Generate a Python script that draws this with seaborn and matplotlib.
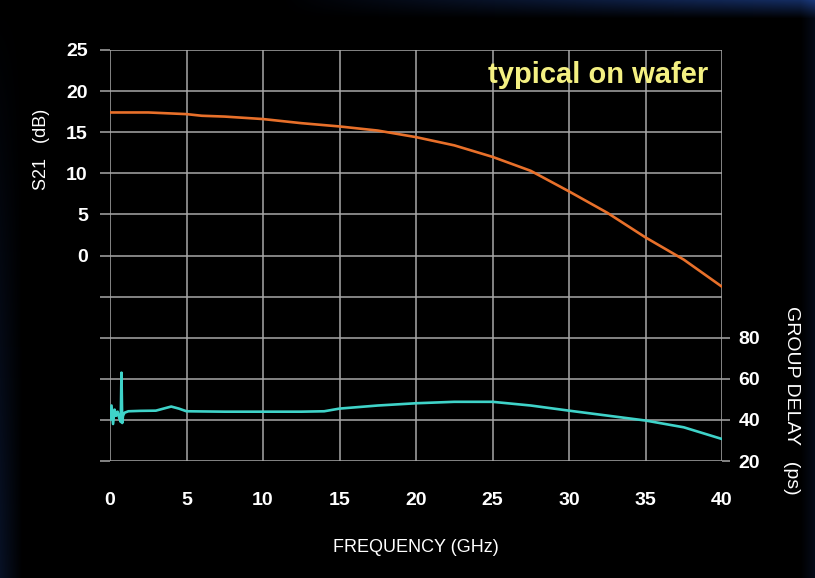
import numpy as np
import pandas as pd
import matplotlib
matplotlib.use("Agg")
import matplotlib.pyplot as plt
import seaborn as sns

# ---- data ----
s21_freq = [0, 2.5, 5, 6, 7.5, 10, 12.5, 15, 17.5, 20, 22.5, 25, 27.5, 30, 32.5, 35, 37.5, 40]
s21_db = [17.4, 17.4, 17.2, 17.0, 16.9, 16.6, 16.1, 15.7, 15.2, 14.4, 13.4, 12.0, 10.3, 7.8, 5.2, 2.2, -0.5, -3.8]

gd_freq = [0, 0.1, 0.2, 0.3, 0.4, 0.5, 0.6, 0.7, 0.75, 0.8, 0.85, 0.95, 1.2, 2, 3, 3.5, 4, 4.5, 5,
           7.5, 10, 12.5, 14, 15, 17.5, 20, 22.5, 25, 27.5, 30, 32.5, 35, 37.5, 40]
gd_ps = [40, 47, 38, 45, 42, 44, 41, 39, 63, 38.5, 42, 43.5, 44.2, 44.4, 44.5, 45.5, 46.5, 45.5, 44.2,
         44.0, 44.0, 44.0, 44.2, 45.5, 47.0, 48.1, 48.8, 48.8, 47.0, 44.5, 42.1, 39.7, 36.4, 30.7]

x_ticks = [0, 5, 10, 15, 20, 25, 30, 35, 40]
s21_ticks = [0, 5, 10, 15, 20, 25]
gd_ticks = [20, 40, 60, 80]

sns.set_style("dark")
plt.rcParams['font.family'] = ['Liberation Sans', 'DejaVu Sans']

fig = plt.figure(figsize=(8.15, 5.78), dpi=100, facecolor="black")

# background gradient (dark blue edges)
bg = fig.add_axes([0, 0, 1, 1], zorder=-10)
H, W = 578, 815
yy, xx = np.mgrid[0:H, 0:W]
top = np.clip((18 - yy) / 18.0, 0, 1) * np.clip((xx - 280) / 535.0, 0, 1) * 0.8
left = np.clip((22 - xx) / 22.0, 0, 1) * 0.3 * np.clip(yy / H, 0, 1)
right = np.clip((xx - 800) / 15.0, 0, 1) * 0.2
amt = np.clip(top + left + right, 0, 1)
blue = np.array([0.10, 0.22, 0.48])
img = amt[..., None] * blue[None, None, :]
bg.imshow(img, aspect='auto', extent=[0, 1, 0, 1])
bg.axis('off')

ax = fig.add_axes([110/815, 1 - 461/578, (722-110)/815, (461-50)/578])
ax.set_facecolor("black")
ax2 = ax.twinx()

df1 = pd.DataFrame({"freq": s21_freq, "s21": s21_db})
df2 = pd.DataFrame({"freq": gd_freq, "gd": gd_ps})

grid_c = "#a8a8a8"
ax.set_xlim(0, 40)
ax.set_ylim(-25, 25)
ax.set_yticks(np.arange(-25, 26, 5))
ax.set_yticklabels([str(v) if v in s21_ticks else "" for v in range(-25, 26, 5)])
ax.set_xticks(x_ticks)
ax.grid(True, color=grid_c, lw=1.1)
ax.set_axisbelow(True)
for s in ax.spines.values():
    s.set_visible(False)
for s in ax2.spines.values():
    s.set_visible(False)

ax.tick_params(axis='y', colors=grid_c, length=7, width=1.1, labelcolor="white",
               labelsize=14, pad=9)
ax.tick_params(axis='x', colors=grid_c, length=7, width=1.1, labelcolor="white",
               labelsize=14, pad=15)
for lab in ax.get_xticklabels() + ax.get_yticklabels():
    lab.set_fontweight('bold')

sns.lineplot(data=df1, x="freq", y="s21", ax=ax, color="#e8702a", lw=1.9, zorder=5)

ax2.set_ylim(20, 220)
ax2.set_yticks(gd_ticks)
ax2.tick_params(axis='y', colors=grid_c, length=6, width=1.1, labelcolor="white",
                labelsize=14, pad=6)
for lab in ax2.get_yticklabels():
    lab.set_fontweight('bold')
ax2.grid(False)
sns.lineplot(data=df2, x="freq", y="gd", ax=ax2, color="#3fd3c9", lw=1.9, zorder=5)

ax.set_xlabel("FREQUENCY (GHz)", color="white", fontsize=13, labelpad=22)
ax.set_ylabel("S21   (dB)", color="white", fontsize=13)
ax.yaxis.set_label_coords(-0.098, 0.757)
ax2.set_ylabel("GROUP DELAY   (ps)", color="white", fontsize=14, rotation=-90, labelpad=18)
ax2.yaxis.set_label_coords(1.127, 0.148)

ax.text(39.1, 22.0, "typical on wafer", color="#f4f082", fontsize=21, fontweight='bold',
        ha='right', va='center', zorder=6)

fig.savefig("out.png", dpi=100, facecolor="black")
